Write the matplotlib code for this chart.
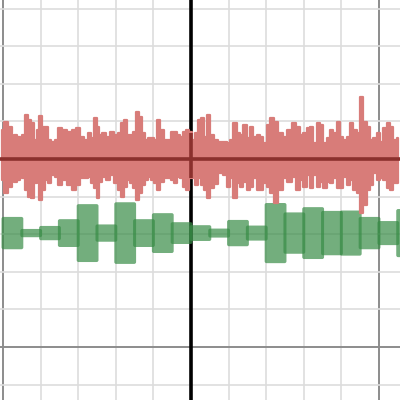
import numpy as np
import matplotlib
matplotlib.use("Agg")
import matplotlib.pyplot as plt
from matplotlib.patches import FancyBboxPatch

# ---- data (graph units) ----
# red noisy signal: sample positions with upper / lower envelope
red_x = [-5.03, -4.91, -4.81, -4.73, -4.68, -4.60, -4.52, -4.45, -4.38, -4.30,
         -4.22, -4.14, -4.07, -4.00, -3.92, -3.84, -3.76, -3.67, -3.59, -3.50,
         -3.38, -3.24, -3.11, -3.01, -2.89, -2.78, -2.70, -2.62, -2.54, -2.47,
         -2.41, -2.31, -2.21, -2.09, -1.99, -1.89, -1.81, -1.74, -1.66, -1.58,
         -1.50, -1.42, -1.34, -1.26, -1.18, -1.10, -1.02, -0.94, -0.86, -0.77,
         -0.66, -0.57, -0.49, -0.41, -0.33, -0.25, -0.17, -0.09, -0.01, 0.07,
         0.15, 0.23, 0.31, 0.39, 0.47, 0.55, 0.65, 0.80, 0.90, 1.00,
         1.08, 1.17, 1.26, 1.34, 1.44, 1.53, 1.61, 1.70, 1.80, 1.88,
         1.97, 2.06, 2.15, 2.26, 2.38, 2.50, 2.62, 2.75, 2.86, 2.94,
         3.03, 3.13, 3.20, 3.30, 3.39, 3.47, 3.56, 3.66, 3.74, 3.83,
         3.92, 4.00, 4.10, 4.19, 4.27, 4.36, 4.45, 4.53, 4.63, 4.72,
         4.80, 4.89, 4.99, 5.07, 5.16, 5.25, 5.33, 5.43, 5.52]
red_hi = [0.77, 0.98, 0.85, 0.43, 0.64, 0.59, 0.51, 0.64, 1.17, 1.04,
          0.96, 0.51, 0.77, 1.14, 0.85, 0.85, 0.51, 0.45, 0.51, 0.82,
          0.77, 0.72, 0.77, 0.82, 0.59, 0.51, 0.69, 0.56, 1.09, 0.85,
          0.64, 0.69, 0.59, 0.72, 0.64, 0.69, 0.96, 1.04, 0.64, 0.64,
          0.72, 1.25, 1.12, 0.69, 0.51, 0.56, 0.56, 0.51, 1.04, 0.77,
          0.51, 0.51, 0.72, 0.72, 0.64, 0.59, 0.72, 0.77, 0.72, 0.51,
          0.69, 1.04, 1.09, 0.59, 1.17, 0.64, 0.51, 0.45, 0.45, 0.43,
          0.51, 0.96, 0.69, 0.64, 0.90, 0.56, 0.85, 0.59, 0.64, 0.59,
          0.43, 0.90, 1.09, 0.98, 0.69, 0.59, 0.77, 0.96, 0.85, 0.64,
          0.69, 0.82, 0.85, 0.43, 0.96, 0.90, 0.43, 0.56, 0.77, 0.69,
          0.98, 0.59, 0.51, 0.59, 0.96, 0.77, 0.69, 1.65, 0.98, 0.85,
          0.51, 0.56, 0.69, 0.45, 0.82, 0.96, 0.85, 0.51, 0.56]
red_lo = [-0.56, -0.90, -0.74, -0.56, -0.61, -0.56, -0.37, -0.51, -0.82, -1.01,
          -1.04, -0.64, -0.56, -1.09, -0.82, -0.56, -0.64, -0.43, -0.48, -0.69,
          -0.56, -0.69, -0.82, -0.69, -0.51, -0.51, -0.48, -0.64, -0.77, -1.04,
          -0.61, -0.48, -0.56, -0.43, -0.64, -0.82, -1.01, -0.74, -0.56, -0.64,
          -0.77, -1.09, -0.90, -0.69, -0.56, -0.48, -0.56, -0.64, -0.82, -0.61,
          -0.51, -0.51, -0.56, -0.64, -0.48, -0.51, -0.74, -0.82, -0.51, -0.51,
          -0.69, -0.51, -0.69, -0.82, -1.04, -0.77, -0.66, -0.37, -0.43, -0.74,
          -0.51, -1.04, -0.64, -0.74, -0.61, -0.82, -0.74, -0.51, -0.82, -0.82,
          -0.64, -0.74, -0.90, -1.17, -0.82, -0.51, -0.61, -0.48, -0.82, -0.56,
          -0.74, -0.43, -0.77, -0.43, -0.74, -0.61, -0.77, -0.61, -0.64, -0.51,
          -0.77, -0.77, -0.48, -0.69, -0.56, -0.82, -0.90, -1.44, -1.22, -0.82,
          -0.69, -0.37, -0.56, -0.51, -0.56, -0.77, -0.82, -0.64, -0.64]

# green blocks: left edge of each 0.5-wide block and its half height
green_left = [-5.0, -4.5, -4.0, -3.5, -3.0, -2.5, -2.0, -1.5, -1.0, -0.5, 0.0,
              0.5, 1.0, 1.5, 2.0, 2.5, 3.0, 3.5, 4.0, 4.5, 5.0, 5.5]
green_half = [0.39, 0.07, 0.15, 0.33, 0.73, 0.19, 0.78, 0.33, 0.49, 0.25, 0.17,
              0.08, 0.31, 0.16, 0.76, 0.51, 0.65, 0.55, 0.56, 0.39, 0.28, 0.60]
green_center = -1.97
block_w = 0.5

RED_FLAT = "#d87c79"      # desmos red at 0.7 opacity over white
RED_ON_BLACK = "#8b302d"  # same red over the black axis
GREEN = "#388c46"

fig = plt.figure(figsize=(4, 4), dpi=100)
ax = fig.add_axes([0, 0, 1, 1])
ax.set_xlim(-5.08, 5.56)
ax.set_ylim(-6.41, 4.23)
ax.set_axis_off()

# grid (desmos style)
for gx in range(-5, 6):
    if gx == 0:
        continue
    major = gx % 5 == 0
    ax.axvline(gx, color="#8c8c8c" if major else "#dddddd",
               lw=1.4 if major else 1.2, zorder=0)
for gy in range(-6, 5):
    if gy == 0:
        continue
    major = gy % 5 == 0
    ax.axhline(gy, color="#8c8c8c" if major else "#dddddd",
               lw=1.4 if major else 1.2, zorder=0)
ax.axvline(0, color="black", lw=2.6, zorder=1)

# red signal, flat colour with a rounded stroke
ax.fill_between(red_x, red_lo, red_hi, step="mid", facecolor=RED_FLAT,
                edgecolor=RED_FLAT, lw=1.6, joinstyle="round", zorder=3)
# axes seen through the translucent red band
ax.axhline(0, color=RED_ON_BLACK, lw=2.6, zorder=4)
y_top = np.interp(0, red_x, red_hi)
y_bot = np.interp(0, red_x, red_lo)
ax.plot([0, 0], [y_bot, y_top], color=RED_ON_BLACK, lw=2.6,
        solid_capstyle="butt", zorder=4)

# green blocks
for x0, h in zip(green_left, green_half):
    box = FancyBboxPatch((x0, green_center - h), block_w, 2 * h,
                         boxstyle="round,pad=0.04,rounding_size=0.05",
                         facecolor=GREEN, alpha=0.7, lw=0, zorder=2)
    ax.add_patch(box)

fig.savefig("out.png", dpi=100)
